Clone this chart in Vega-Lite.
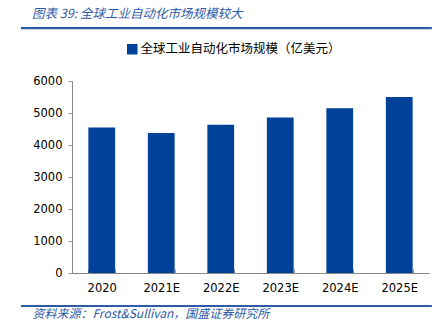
{
  "$schema": "https://vega.github.io/schema/vega-lite/v6.json",
  "autosize": "none",
  "width": 357,
  "height": 192,
  "padding": {"left": 72, "top": 81, "right": 9, "bottom": 58},
  "background": "white",
  "config": {
    "font": "DejaVu Sans",
    "view": {"stroke": null}
  },
  "title": {
    "text": "图表 39:  全球工业自动化市场规模较大",
    "anchor": "start",
    "frame": "group",
    "dx": -40,
    "offset": 6,
    "font": "Noto Sans CJK SC",
    "fontSize": 12.5,
    "fontStyle": "italic",
    "fontWeight": "normal",
    "color": "#2E5AA6"
  },
  "data": {
    "values": [
      {"year": "2020", "value": 4550, "series": "全球工业自动化市场规模（亿美元）"},
      {"year": "2021E", "value": 4375, "series": "全球工业自动化市场规模（亿美元）"},
      {"year": "2022E", "value": 4630, "series": "全球工业自动化市场规模（亿美元）"},
      {"year": "2023E", "value": 4860, "series": "全球工业自动化市场规模（亿美元）"},
      {"year": "2024E", "value": 5145, "series": "全球工业自动化市场规模（亿美元）"},
      {"year": "2025E", "value": 5500, "series": "全球工业自动化市场规模（亿美元）"}
    ]
  },
  "resolve": {"scale": {"y": "independent", "x": "independent"}, "axis": {"y": "independent", "x": "independent"}},
  "layer": [
    {
      "data": {"values": [{"line": "top", "lo": 7620, "hi": 7690, "from": -0.143, "to": 1.008}, {"line": "bottom", "lo": -1060, "hi": -1000, "from": -0.143, "to": 1.008}]},
      "mark": {"type": "rect", "color": "#2E5AA6", "clip": false},
      "encoding": {
        "x": {"field": "from", "type": "quantitative", "scale": {"domain": [0, 1], "zero": false, "nice": false}, "axis": null},
        "x2": {"field": "to"},
        "y": {"field": "lo", "type": "quantitative", "scale": {"domain": [0, 6000], "zero": false, "nice": false, "clamp": false}, "axis": null},
        "y2": {"field": "hi"}
      }
    },
    {
      "mark": {"type": "bar", "color": "#00419A"},
      "encoding": {
        "x": {
          "field": "year",
          "type": "nominal",
          "sort": null,
          "scale": {"paddingInner": 0.55, "paddingOuter": 0.275},
          "axis": {
            "title": "资料来源：Frost&Sullivan，国盛证券研究所",
            "titleFont": "Noto Sans CJK SC",
            "titleFontStyle": "italic",
            "titleFontWeight": "normal",
            "titleFontSize": 12,
            "titleColor": "#2E5AA6",
            "titleAnchor": "start",
            "titleAlign": "left",
            "titleBaseline": "middle",
            "titleX": -40,
            "titleY": 40,
            "labelFont": "DejaVu Sans",
            "labelAngle": 0,
            "labelFontSize": 11.5,
            "labelColor": "#000000",
            "labelPadding": 13,
            "tickBand": "extent",
            "tickSize": -4,
            "tickColor": "#999999",
            "domainColor": "#888888"
          }
        },
        "y": {
          "field": "value",
          "type": "quantitative",
          "scale": {"domain": [0, 6000]},
          "axis": {
            "title": null,
            "values": [0, 1000, 2000, 3000, 4000, 5000, 6000],
            "format": "d",
            "labelOverlap": false,
            "labelFont": "DejaVu Sans",
            "grid": false,
            "labelFontSize": 11.5,
            "labelColor": "#000000",
            "labelPadding": 6,
            "tickSize": 4,
            "tickColor": "#999999",
            "domainColor": "#888888"
          }
        },
        "color": {
          "field": "series",
          "type": "nominal",
          "scale": {"range": ["#00419A"]},
          "legend": {
            "title": null,
            "orient": "none",
            "legendX": 54,
            "legendY": -38,
            "symbolType": "square",
            "symbolSize": 110,
            "labelLimit": 0,
            "labelFont": "Noto Sans CJK SC",
            "labelFontSize": 12.5,
            "labelColor": "#000000",
            "labelOffset": 2
          }
        }
      }
    }
  ]
}
